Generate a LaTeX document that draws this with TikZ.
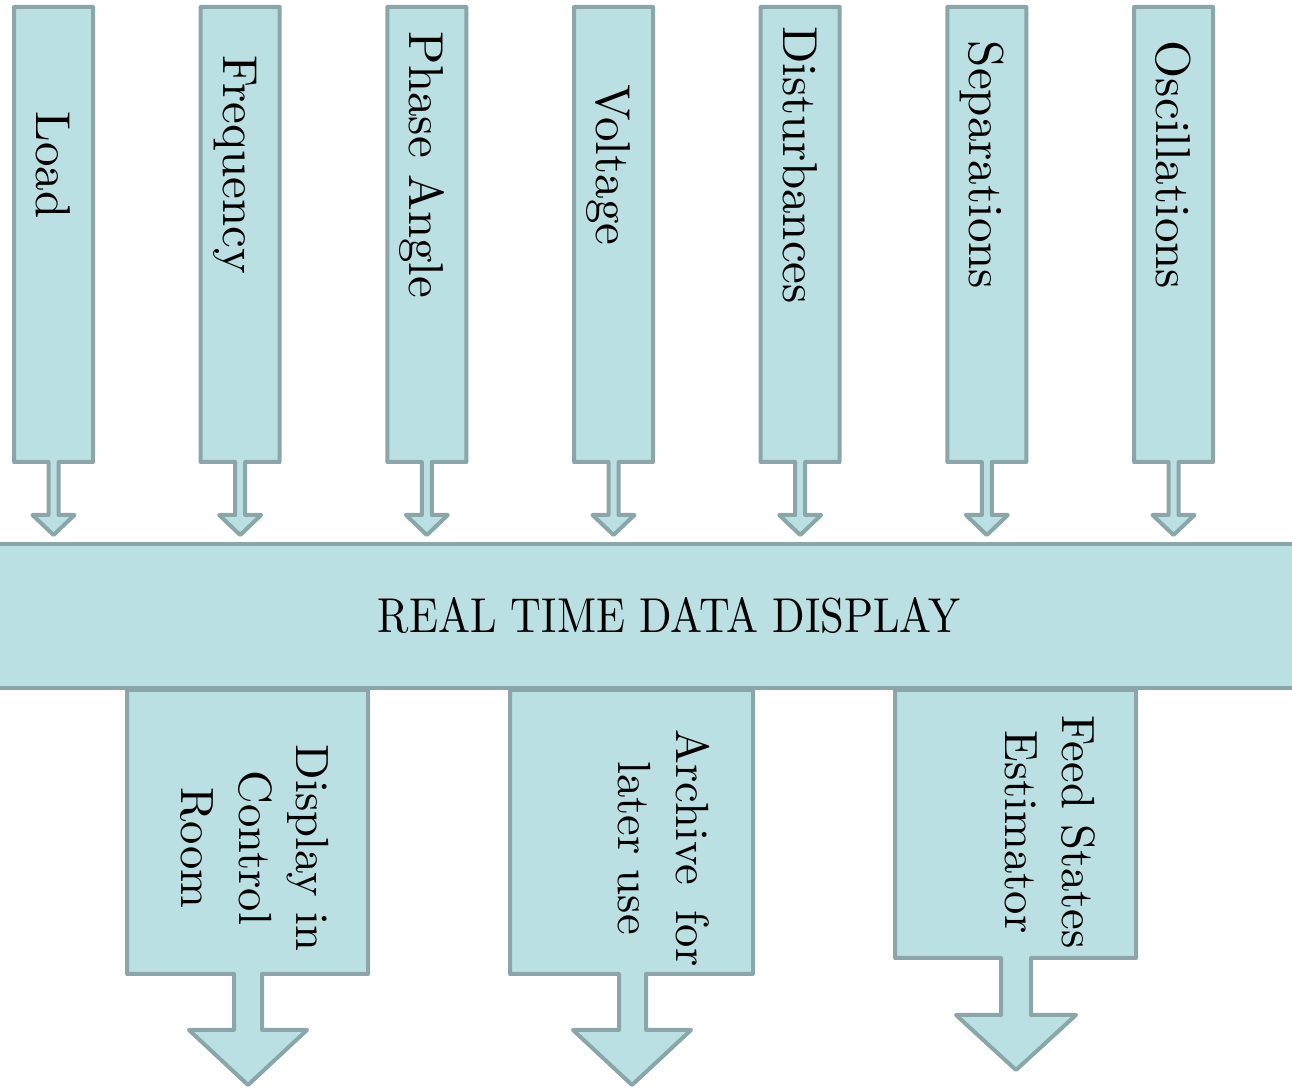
\documentclass[tikz,border=0pt]{standalone}
\usepackage{fontspec}
\setmainfont{lmroman10-regular}[Extension=.otf]
\definecolor{boxfill}{HTML}{BBE0E3}
\definecolor{boxline}{HTML}{8AA6A8}
\tikzset{
  blk/.style={draw=boxline, fill=boxfill, line width=2pt, line join=round},
  lbl/.style={font=\fontsize{24.5}{28.75}\selectfont, inner sep=0pt, rotate=-90, align=center, text=black},
  outlbl/.style={lbl, font=\fontsize{23.3}{28.75}\selectfont},
}
\begin{document}
\begin{tikzpicture}[x=0.5pt,y=-0.5pt]
\useasboundingbox (0,0) rectangle (1292,1090);
\clip (0,0) rectangle (1292,1090);

% input columns, each with a short arrow down into the display bar
\foreach \i/\t in {0/Load,1/Frequency,2/Phase Angle,3/Voltage,4/Disturbances,5/Separations,6/Oscillations} {
  \pgfmathsetmacro\cx{53.5+186.67*\i}
  \draw[blk] ({\cx-39.5},7) -- ({\cx+39.5},7) -- ({\cx+39.5},462) -- ({\cx+5},462)
    -- ({\cx+5},515) -- ({\cx+21},515) -- (\cx,535) -- ({\cx-21},515) -- ({\cx-5},515)
    -- ({\cx-5},462) -- ({\cx-39.5},462) -- cycle;
  \node[lbl, anchor=base] (in\i) at ({\cx-17},165) {\t};
}

% output boxes with their arrows
\draw[blk] (127,690) -- (368,690) -- (368,974) -- (262,974) -- (262,1030) -- (307,1030)
  -- (248,1085) -- (189,1030) -- (234,1030) -- (234,974) -- (127,974) -- cycle;
\draw[blk] (510,690) -- (753,690) -- (753,974) -- (646,974) -- (646,1030) -- (691,1030)
  -- (632,1085) -- (573,1030) -- (619,1030) -- (619,974) -- (510,974) -- cycle;
\draw[blk] (895,690) -- (1136,690) -- (1136,958) -- (1031,958) -- (1031,1015) -- (1076,1015)
  -- (1016,1070) -- (956,1015) -- (1001,1015) -- (1001,958) -- (895,958) -- cycle;

\node[outlbl] (out1) at (255,848) {Display in\\Control\\Room};
\node[outlbl] (out2) at (664,848) {Archive\hspace{0.55em}for\\later use};
\node[outlbl] (out3) at (1050,832) {Feed States\\Estimator};

% central display bar
\node[blk, minimum width=689pt, minimum height=72pt, inner sep=0pt,
  font=\fontsize{24.5}{28.75}\selectfont] (rtd) at (669,616)
  {\scalebox{0.87}[1]{REAL TIME DATA DISPLAY}};
\end{tikzpicture}
\end{document}
